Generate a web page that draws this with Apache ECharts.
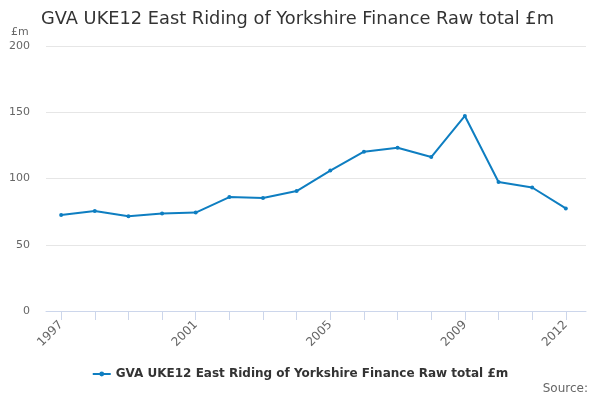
<!DOCTYPE html>
<html><head><meta charset="utf-8">
<script src="https://cdn.jsdelivr.net/npm/echarts@6/dist/echarts.min.js"></script>
<style>html,body{margin:0;padding:0;background:#fff}#c{width:600px;height:400px}</style>
</head><body><div id="c"></div>
<script>
var years = [1997,1998,1999,2000,2001,2002,2003,2004,2005,2006,2007,2008,2009,2010,2011,2012];
var values = [72.5,75.5,71.5,73.5,74.3,86,85.3,90.5,106,120.2,123.2,116.2,147.2,97.4,93.2,77.4];
var yearLabels = [1997,2001,2005,2009,2012];
var seriesName = 'GVA UKE12 East Riding of Yorkshire Finance Raw total £m';
var font = 'DejaVu Sans';
var chart = echarts.init(document.getElementById('c'));
chart.setOption({
  animation:false,
  textStyle:{fontFamily:font},
  title:{text:seriesName,left:36,top:5,textStyle:{fontFamily:font,fontSize:17.8,fontWeight:'normal',color:'#333'}},
  graphic:[
    {type:'text',left:11,top:27,style:{text:'£m',fontFamily:font,fontSize:11,fill:'#666'}},
    {type:'text',right:12,top:383,style:{text:'Source:',fontFamily:font,fontSize:12,fill:'#666'}}
  ],
  legend:{bottom:15,left:'center',itemWidth:18,itemHeight:6,itemGap:5,
    textStyle:{fontFamily:font,fontSize:12,fontWeight:'bold',color:'#333'},data:[seriesName]},
  grid:{left:46,right:14,top:46,bottom:89},
  xAxis:{type:'value',min:1996.55,max:2012.6,
    axisLine:{lineStyle:{color:'#ccd6eb'}},
    axisTick:{show:true,length:9,lineStyle:{color:'#ccd6eb'},customValues:years},
    axisLabel:{rotate:45,color:'#666',fontSize:12,fontFamily:font,margin:12,customValues:yearLabels,formatter:function(v){return String(v);}},
    splitLine:{show:false}},
  yAxis:{type:'value',min:0,max:200,interval:50,
    axisLine:{show:false},axisTick:{show:false},
    axisLabel:{color:'#666',fontSize:11,fontFamily:font,margin:16},
    splitLine:{lineStyle:{color:'#e6e6e6'}}},
  series:[{name:seriesName,type:'line',data:years.map(function(y,i){return [y,values[i]];}),
    symbol:'circle',symbolSize:4,showSymbol:true,
    lineStyle:{color:'#0e7ec1',width:2},itemStyle:{color:'#0e7ec1'}}]
});
</script></body></html>
